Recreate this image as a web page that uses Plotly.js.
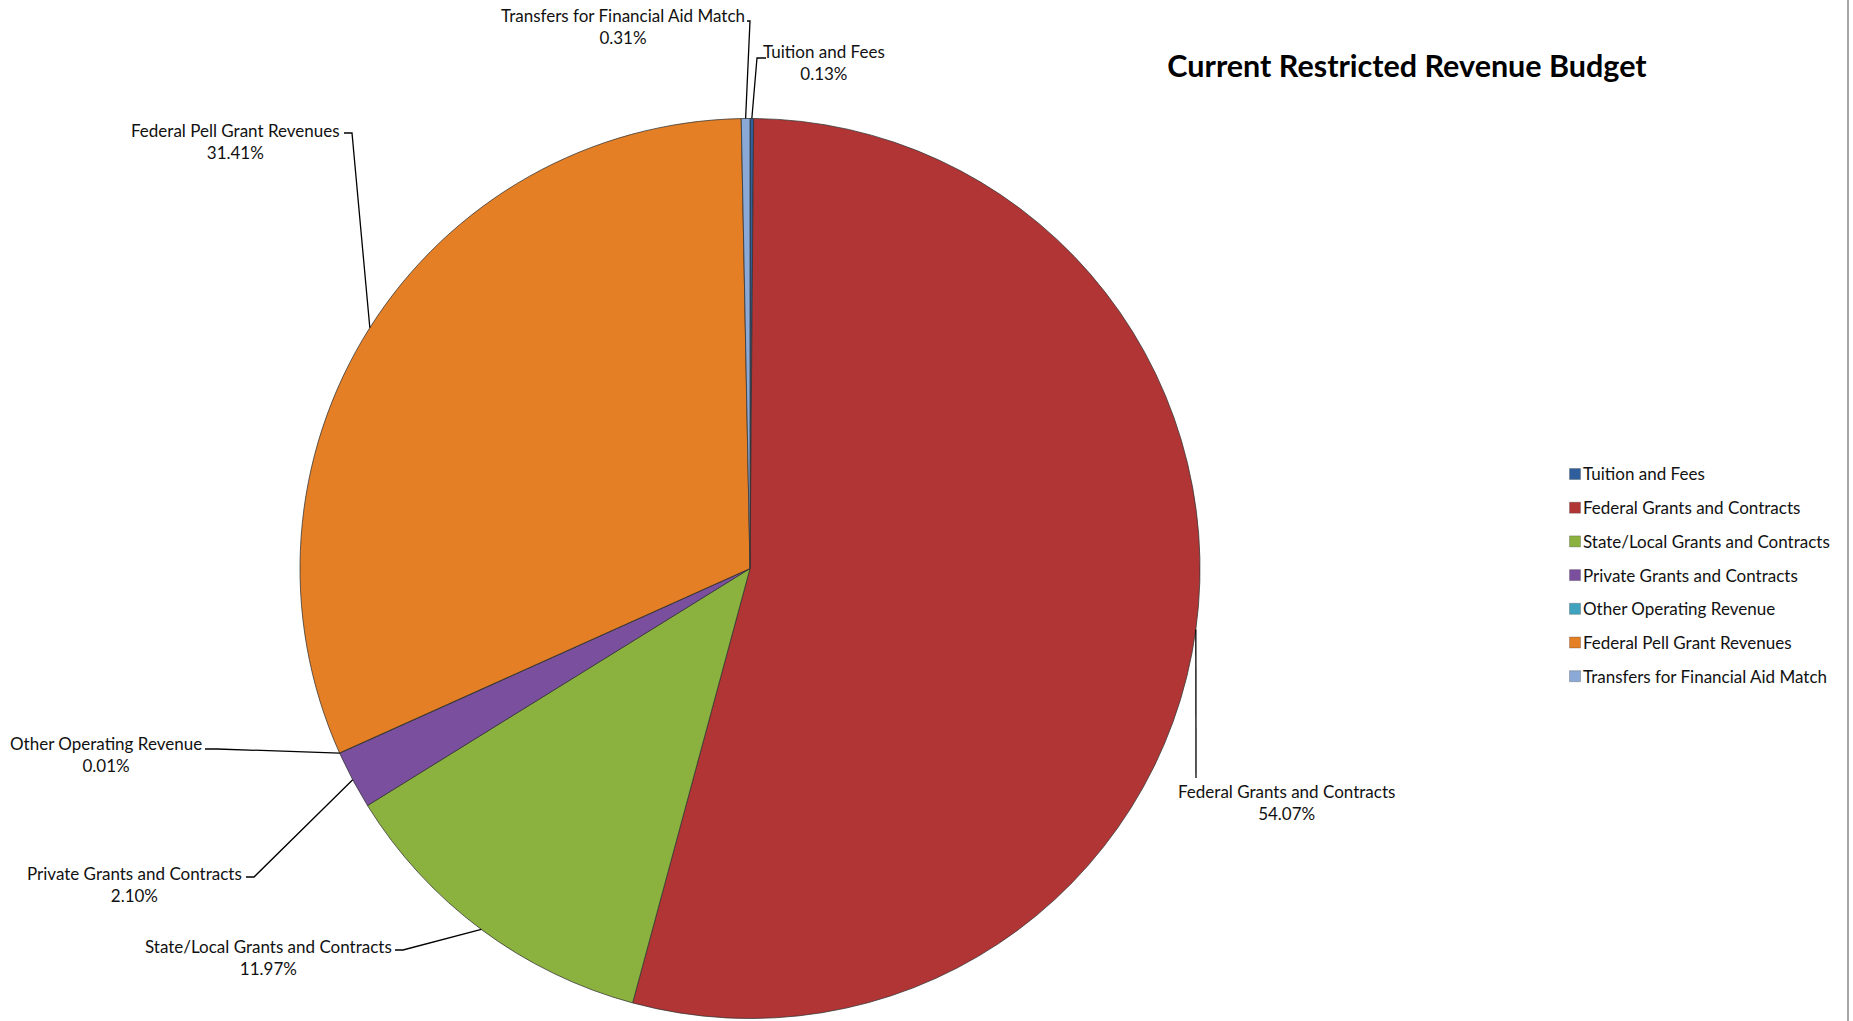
<!DOCTYPE html>
<html>
<head>
<meta charset="utf-8">
<script src="https://cdn.plot.ly/plotly-3.0.1.min.js"></script>
<style>
  html, body { margin: 0; padding: 0; background: #ffffff; }
  #chart { width: 1853px; height: 1021px; }
</style>
</head>
<body>
<div id="chart"></div>
<script>
// ---- data ----
const categories = [
  "Tuition and Fees",
  "Federal Grants and Contracts",
  "State/Local Grants and Contracts",
  "Private Grants and Contracts",
  "Other Operating Revenue",
  "Federal Pell Grant Revenues",
  "Transfers for Financial Aid Match"
];
const shares = [0.13, 54.07, 11.97, 2.10, 0.01, 31.41, 0.31];
const colors = ["#2F5E9C", "#B23535", "#8BB13F", "#7A4F9E", "#3FA3C0", "#E47F26", "#8AA9D6"];
const chartTitle = "Current Restricted Revenue Budget";

// ---- layout geometry (pixels) ----
const W = 1853, H = 1021;
const CX = 750, CY = 568.5, R = 450;
const FONT = "Lato, 'Open Sans', sans-serif";
const px = x => x / W;
const py = y => 1 - y / H;

// label block centres and leader-line anchor points on the label side
const labelPos = [
  { x: 824,  y: 62.5,  lead: [[766, 58], [757, 58]] },
  { x: 1286, y: 802.5, lead: [[1196, 778]] },
  { x: 268,  y: 957,   lead: [[395, 950], [403, 950]] },
  { x: 134,  y: 884.5, lead: [[246, 877], [254, 877]] },
  { x: 106,  y: 754.5, lead: [[205, 749], [217, 749]] },
  { x: 235,  y: 141.5, lead: [[344, 133], [352, 133]] },
  { x: 623,  y: 26.5,  lead: [[747, 21], [750, 21]] }
];

const total = shares.reduce((a, b) => a + b, 0);
const annotations = [];
const shapes = [];

// data labels with leader lines to slice mid-points
let cum = 0;
shares.forEach((v, i) => {
  const mid = (cum + v / 2) / total * 2 * Math.PI;
  cum += v;
  const ex = CX + R * Math.sin(mid);
  const ey = CY - R * Math.cos(mid);
  const pct = (v / total * 100).toFixed(2) + "%";
  const lp = labelPos[i];
  annotations.push({
    xref: "paper", yref: "paper", x: px(lp.x), y: py(lp.y),
    xanchor: "center", yanchor: "middle", align: "center",
    showarrow: false, text: categories[i] + "<br>" + pct,
    font: { family: FONT, size: 17, color: "#111111" }
  });
  const pts = lp.lead.concat([[ex, ey]]);
  const d = pts.map((p, k) => (k ? "L" : "M") + px(p[0]) + "," + py(p[1])).join(" ");
  shapes.push({
    type: "path", xref: "paper", yref: "paper", path: d,
    line: { color: "#000000", width: 1.3 }
  });
});

// manual legend (Excel-like spacing)
const legendX = 1575, legendY0 = 474, legendStep = 33.7, sq = 11;
categories.forEach((c, i) => {
  const y = legendY0 + i * legendStep;
  shapes.push({
    type: "rect", xref: "paper", yref: "paper",
    x0: px(legendX - sq / 2), x1: px(legendX + sq / 2),
    y0: py(y + sq / 2), y1: py(y - sq / 2),
    fillcolor: colors[i], line: { color: "rgba(60,60,60,0.5)", width: 0.6 }
  });
  annotations.push({
    xref: "paper", yref: "paper", x: px(legendX + 6), y: py(y),
    xanchor: "left", yanchor: "middle", showarrow: false, text: c,
    font: { family: FONT, size: 17, color: "#111111" }
  });
});

// right border line
shapes.push({
  type: "line", xref: "paper", yref: "paper",
  x0: px(1848), x1: px(1848), y0: 0, y1: 1,
  line: { color: "#a6a6a6", width: 2 }
});

const trace = {
  type: "pie",
  labels: categories,
  values: shares,
  sort: false,
  direction: "clockwise",
  rotation: 0,
  textinfo: "none",
  hoverinfo: "label+percent",
  marker: { colors: colors, line: { color: "rgba(50,50,50,0.75)", width: 1 } },
  domain: { x: [px(CX - R), px(CX + R)], y: [py(CY + R), py(CY - R)] },
  showlegend: false
};

const layout = {
  width: W, height: H,
  margin: { l: 0, r: 0, t: 0, b: 0 },
  paper_bgcolor: "#ffffff",
  showlegend: false,
  title: {
    text: "<b>" + chartTitle + "</b>",
    x: px(1407), xanchor: "center", y: py(66), yanchor: "middle",
    font: { family: FONT, size: 30.5, color: "#000000" }
  },
  annotations: annotations,
  shapes: shapes
};

Plotly.newPlot("chart", [trace], layout, { displayModeBar: false, responsive: false });
</script>
</body>
</html>
